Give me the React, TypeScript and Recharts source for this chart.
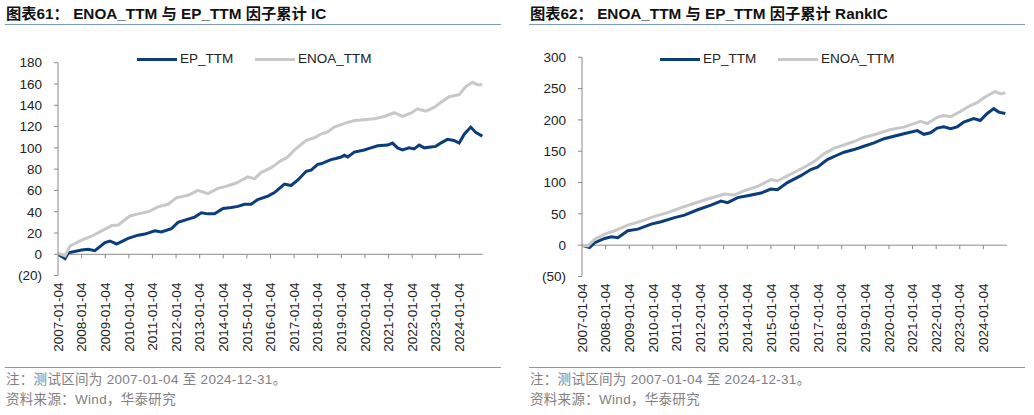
import React from 'react';
import { LineChart, Line, XAxis, YAxis, ReferenceLine } from 'recharts';

// x = years since 2007-01-04, v = cumulative value
const YEAR_LABELS = [
  '2007-01-04', '2008-01-04', '2009-01-04', '2010-01-04', '2011-01-04', '2012-01-04',
  '2013-01-04', '2014-01-04', '2015-01-04', '2016-01-04', '2017-01-04', '2018-01-04',
  '2019-01-04', '2020-01-04', '2021-01-04', '2022-01-04', '2023-01-04', '2024-01-04',
];

const IC_TICKS = [-20, 0, 20, 40, 60, 80, 100, 120, 140, 160, 180];
const RANKIC_TICKS = [-50, 0, 50, 100, 150, 200, 250, 300];

const IC_EP: [number, number][] = [
  [0, 0], [0.3, -4], [0.44, 1.5], [1.0, 4], [1.28, 4.7], [1.56, 3.4], [1.99, 11], [2.2, 12.5],
  [2.48, 9.7], [2.97, 15], [3.39, 18], [3.68, 19], [4.1, 22], [4.38, 21], [4.8, 24], [5.08, 30],
  [5.51, 33], [5.79, 35], [6.07, 39], [6.35, 38], [6.63, 38], [6.99, 43], [7.34, 44], [7.62, 45],
  [7.9, 47], [8.18, 47], [8.46, 51.5], [8.89, 54.6], [9.17, 58], [9.59, 66], [9.87, 64.6],
  [10.15, 69.6], [10.51, 78], [10.72, 79], [11.0, 84.5], [11.14, 85], [11.56, 89], [11.77, 90],
  [11.99, 91.4], [12.13, 93], [12.27, 91.4], [12.55, 96], [12.97, 98], [13.25, 100], [13.54, 102],
  [13.96, 102.6], [14.17, 104.5], [14.38, 100], [14.59, 98], [14.87, 100], [15.08, 99],
  [15.3, 102.6], [15.51, 100], [15.79, 100.8], [16.0, 101.4], [16.21, 104.5], [16.49, 108],
  [16.77, 107], [16.99, 104.5], [17.2, 112.6], [17.48, 119.5], [17.69, 114.5], [17.97, 111],
];

const IC_ENOA: [number, number][] = [
  [0, 1], [0.3, -1.5], [0.51, 7.8], [1.0, 13.4], [1.42, 17], [1.85, 22], [2.27, 27], [2.55, 27.5],
  [3.04, 36], [3.39, 38], [3.82, 40], [4.23, 44.6], [4.66, 47], [5.01, 53], [5.51, 55.5],
  [5.93, 60], [6.35, 57], [6.77, 62], [7.13, 64], [7.55, 67], [8.04, 72.7], [8.32, 71],
  [8.61, 77], [9.03, 81.4], [9.45, 88], [9.73, 91.4], [10.01, 98], [10.51, 107], [10.86, 109.5],
  [11.14, 113], [11.42, 115], [11.7, 119.5], [12.13, 123], [12.55, 125.7], [12.97, 126.4],
  [13.39, 127.3], [13.82, 129.5], [14.24, 133], [14.59, 129.5], [14.94, 132.6], [15.23, 136.7],
  [15.58, 134.5], [15.93, 138], [16.21, 142.6], [16.56, 148], [16.77, 149], [16.99, 150],
  [17.27, 157.6], [17.55, 161.6], [17.76, 159.4], [17.97, 159.4],
];

const RANKIC_EP: [number, number][] = [
  [0, 0], [0.32, -3.7], [0.54, 4], [0.96, 10.7], [1.24, 13.4], [1.52, 12], [1.94, 23],
  [2.37, 25.6], [2.93, 33.6], [3.35, 37.4], [3.92, 44], [4.34, 48], [4.9, 56.6], [5.46, 64],
  [5.89, 70.5], [6.17, 68], [6.59, 76], [7.01, 79], [7.58, 83.3], [8.0, 89.7], [8.28, 88.6],
  [8.7, 100], [9.27, 111], [9.69, 120.7], [9.97, 124.4], [10.39, 136.7], [10.82, 144],
  [11.1, 148.5], [11.52, 152.7], [11.94, 158], [12.37, 163.4], [12.79, 170], [13.21, 174],
  [13.63, 178], [14.2, 183], [14.48, 177], [14.76, 179.4], [15.04, 187], [15.32, 189],
  [15.61, 186], [15.89, 189], [16.17, 196.5], [16.59, 202], [16.87, 199], [17.15, 210],
  [17.44, 218], [17.65, 212.5], [17.93, 210.4],
];

const RANKIC_ENOA: [number, number][] = [
  [0, 0], [0.25, -1], [0.54, 9.6], [0.96, 17.6], [1.38, 23], [1.94, 32], [2.51, 38.4],
  [3.07, 46], [3.63, 52], [4.2, 60], [4.76, 67], [5.32, 73.7], [6.03, 81.7], [6.45, 80],
  [6.87, 87], [7.44, 94], [8.0, 104.7], [8.28, 102.5], [8.85, 113.7], [9.41, 124.4],
  [9.83, 133.5], [10.25, 145.8], [10.68, 155], [11.1, 160], [11.52, 165.5], [11.94, 172],
  [12.51, 178], [13.07, 184.8], [13.63, 188.5], [14.06, 194], [14.34, 197.6], [14.62, 194],
  [15.04, 204], [15.32, 207], [15.61, 205], [16.03, 213.6], [16.45, 223], [16.73, 227.5],
  [17.01, 235], [17.3, 241.4], [17.51, 245.6], [17.72, 241.4], [17.93, 243.5],
];

const EP_COLOR = '#0b3c7c';
const ENOA_COLOR = '#c8c8c8';
const AXIS_COLOR = '#8a8a8a';
const RULE_COLOR = '#7b9bc6';
const FONT = '"Liberation Sans", Arial, "Noto Sans CJK SC", sans-serif';

const W = 517;
const H = 415;
const X_AXIS_H = 80;

const toPoints = (arr: [number, number][]) => arr.map(([x, v]) => ({ x, v }));
const fmtY = (v: number) => (v < 0 ? `(${-v})` : `${v}`);

const YearTick = (props: any) => {
  const { x, y, payload } = props;
  const ty = y + 7;
  return (
    <text
      x={x}
      y={ty}
      transform={`rotate(-90, ${x}, ${ty})`}
      textAnchor="end"
      dy="0.35em"
      fontSize={13.5}
      fontFamily={FONT}
      fill="#222"
    >
      {YEAR_LABELS[payload.value]}
    </text>
  );
};

interface PanelProps {
  offset: number;
  title: string;
  ep: [number, number][];
  enoa: [number, number][];
  ticks: number[];
  plotLeft: number;
  plotRight: number;
  plotTop: number;
  plotBottom: number;
  textLeft: number;
  legendX: number;
}

const LegendItem = ({ x, color, label }: { x: number; color: string; label: string }) => (
  <>
    <div style={{ position: 'absolute', left: x, top: 57.5, width: 40, height: 3, background: color }} />
    <div
      style={{
        position: 'absolute', left: x + 43, top: 50, fontSize: 13.5, lineHeight: '18px',
        fontFamily: FONT, color: '#222', whiteSpace: 'nowrap',
      }}
    >
      {label}
    </div>
  </>
);

const Panel = (p: PanelProps) => {
  const min = p.ticks[0];
  const max = p.ticks[p.ticks.length - 1];
  const plotH = p.plotBottom - p.plotTop;
  const tickUnits = (4 * (max - min)) / plotH;
  const years = YEAR_LABELS.map((_, i) => i);

  return (
    <div style={{ position: 'absolute', left: p.offset, top: 0, width: W, height: H }}>
      <div
        style={{
          position: 'absolute', left: p.textLeft, top: 4, fontSize: 15.3, fontWeight: 'bold',
          fontFamily: FONT, color: '#111', whiteSpace: 'nowrap', lineHeight: '20px',
        }}
      >
        {p.title}
      </div>
      <div style={{ position: 'absolute', left: p.textLeft - 1, top: 24, width: 496, height: 1, background: RULE_COLOR }} />

      <div style={{ position: 'absolute', left: 0, top: 0 }}>
        <LineChart
          width={W}
          height={H}
          margin={{ top: p.plotTop, right: W - p.plotRight, left: 0, bottom: H - p.plotBottom - X_AXIS_H }}
        >
          <XAxis
            type="number"
            dataKey="x"
            domain={[0, 18]}
            ticks={years}
            interval={0}
            allowDataOverflow
            axisLine={false}
            tickLine={false}
            tickSize={0}
            tickMargin={0}
            height={X_AXIS_H}
            tick={<YearTick />}
          />
          <YAxis
            type="number"
            domain={[min, max]}
            ticks={p.ticks}
            interval={0}
            allowDataOverflow
            width={p.plotLeft}
            axisLine={{ stroke: AXIS_COLOR }}
            tickLine={{ stroke: AXIS_COLOR }}
            tickSize={4}
            tickMargin={12}
            tick={{ fontSize: 13.5, fill: '#222', fontFamily: FONT }}
            tickFormatter={fmtY}
          />
          <ReferenceLine y={0} stroke={AXIS_COLOR} strokeWidth={1} />
          {years.slice(1).map((i) => (
            <ReferenceLine
              key={i}
              segment={[{ x: i, y: 0 }, { x: i, y: -tickUnits }]}
              stroke={AXIS_COLOR}
              strokeWidth={1}
              ifOverflow="visible"
            />
          ))}
          <Line
            data={toPoints(p.ep)}
            dataKey="v"
            type="linear"
            stroke={EP_COLOR}
            strokeWidth={3}
            dot={false}
            isAnimationActive={false}
          />
          <Line
            data={toPoints(p.enoa)}
            dataKey="v"
            type="linear"
            stroke={ENOA_COLOR}
            strokeWidth={3}
            dot={false}
            isAnimationActive={false}
          />
        </LineChart>
      </div>

      <LegendItem x={p.legendX} color={EP_COLOR} label="EP_TTM" />
      <LegendItem x={p.legendX + 118} color={ENOA_COLOR} label="ENOA_TTM" />

      <div style={{ position: 'absolute', left: p.textLeft - 1, top: 367, width: 496, height: 1, background: RULE_COLOR }} />
      <div
        style={{
          position: 'absolute', left: p.textLeft, top: 371, fontSize: 13.5, lineHeight: '18px',
          fontFamily: FONT, color: '#808080', whiteSpace: 'nowrap', letterSpacing: 0.3,
        }}
      >
        注：测试区间为 2007-01-04 至 2024-12-31。
      </div>
      <div
        style={{
          position: 'absolute', left: p.textLeft, top: 391, fontSize: 13.5, lineHeight: '18px',
          fontFamily: FONT, color: '#808080', whiteSpace: 'nowrap', letterSpacing: 0.3,
        }}
      >
        资料来源：Wind，华泰研究
      </div>
    </div>
  );
};

export default function App() {
  return (
    <div style={{ position: 'fixed', left: 0, top: 0, width: 1034, height: 415, background: '#fff', overflow: 'hidden' }}>
      <Panel
        offset={0}
        title="图表61：  ENOA_TTM 与 EP_TTM 因子累计 IC"
        ep={IC_EP}
        enoa={IC_ENOA}
        ticks={IC_TICKS}
        plotLeft={58}
        plotRight={483}
        plotTop={62.7}
        plotBottom={275.6}
        textLeft={6}
        legendX={137}
      />
      <Panel
        offset={517}
        title="图表62：  ENOA_TTM 与 EP_TTM 因子累计 RankIC"
        ep={RANKIC_EP}
        enoa={RANKIC_ENOA}
        ticks={RANKIC_TICKS}
        plotLeft={65}
        plotRight={490}
        plotTop={57.3}
        plotBottom={276.5}
        textLeft={13}
        legendX={143}
      />
    </div>
  );
}
